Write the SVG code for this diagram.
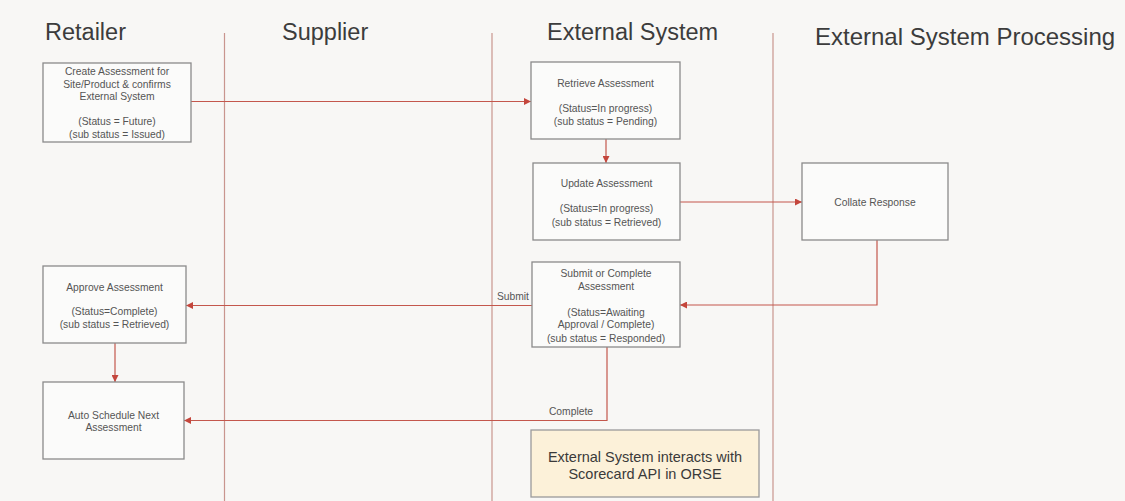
<svg xmlns="http://www.w3.org/2000/svg" width="1125" height="501" viewBox="0 0 1125 501">
<style>
.bg{fill:#f8f7f5}
.lane{stroke:#c9958e;stroke-width:1.2;fill:none}
.head{font-family:"Liberation Sans",Arial,sans-serif;font-size:23.5px;fill:#3c3c3c}
.box{fill:#fbfbfa;stroke:#8a8a8a;stroke-width:1.3}
.note{fill:#fcf1d9;stroke:#9a9a9a;stroke-width:1.3}
.t{font-family:"Liberation Sans",Arial,sans-serif;font-size:10.3px;fill:#555;text-anchor:middle}
.lbl{font-family:"Liberation Sans",Arial,sans-serif;font-size:10.3px;fill:#555;text-anchor:end}
.nt{font-family:"Liberation Sans",Arial,sans-serif;font-size:14.5px;fill:#3a3a3a;text-anchor:middle}
.c{stroke:#c4574c;stroke-width:1.2;fill:none;marker-end:url(#ah)}
</style>
<defs>
<marker id="ah" viewBox="0 0 10 10" refX="10" refY="5" markerWidth="7" markerHeight="7" markerUnits="userSpaceOnUse" orient="auto">
<path d="M0,0 L10,5 L0,10 z" fill="#c4463c"/>
</marker>
</defs>
<rect class="bg" x="0" y="0" width="1125" height="501"/>
<g id="lanes">
<line class="lane" x1="224.5" y1="33" x2="224.5" y2="501"/>
<line class="lane" x1="492" y1="33" x2="492" y2="501"/>
<line class="lane" x1="773" y1="33" x2="773" y2="501"/>
<text class="head" x="45" y="40">Retailer</text>
<text class="head" x="282" y="40">Supplier</text>
<text class="head" x="547" y="40">External System</text>
<text class="head" x="815" y="45" style="font-size:24px">External System Processing</text>
</g>
<g id="connectors">
<path class="c" d="M191,101.5 H531"/>
<path class="c" d="M606,139 V163"/>
<path class="c" d="M680,202 H802"/>
<path class="c" d="M877,240 V305 H680"/>
<path class="c" d="M532,305.5 H186"/>
<path class="c" d="M607,347 V420.5 H184"/>
<path class="c" d="M115,343 V382"/>
<text class="lbl" x="529" y="300">Submit</text>
<text class="lbl" x="593" y="415">Complete</text>
</g>
<g id="create">
<rect class="box" x="43" y="63" width="148" height="79"/>
<text class="t" x="117" y="75">Create Assessment for</text>
<text class="t" x="117" y="87.5">Site/Product &amp; confirms</text>
<text class="t" x="117" y="100">External System</text>
<text class="t" x="117" y="125">(Status = Future)</text>
<text class="t" x="117" y="138">(sub status = Issued)</text>
</g>
<g id="retrieve">
<rect class="box" x="531" y="62" width="149" height="77"/>
<text class="t" x="605.5" y="87">Retrieve Assessment</text>
<text class="t" x="605.5" y="112">(Status=In progress)</text>
<text class="t" x="605.5" y="125">(sub status = Pending)</text>
</g>
<g id="update">
<rect class="box" x="533" y="163" width="147" height="77"/>
<text class="t" x="606.5" y="187">Update Assessment</text>
<text class="t" x="606.5" y="212">(Status=In progress)</text>
<text class="t" x="606.5" y="225.5">(sub status = Retrieved)</text>
</g>
<g id="collate">
<rect class="box" x="802" y="163" width="146" height="77"/>
<text class="t" x="875" y="206">Collate Response</text>
</g>
<g id="submit">
<rect class="box" x="532" y="262" width="148" height="85"/>
<text class="t" x="606" y="277">Submit or Complete</text>
<text class="t" x="606" y="290">Assessment</text>
<text class="t" x="606" y="315.5">(Status=Awaiting</text>
<text class="t" x="606" y="328">Approval / Complete)</text>
<text class="t" x="606" y="341.5">(sub status = Responded)</text>
</g>
<g id="approve">
<rect class="box" x="43" y="266" width="143" height="77"/>
<text class="t" x="114.5" y="291">Approve Assessment</text>
<text class="t" x="114.5" y="315">(Status=Complete)</text>
<text class="t" x="114.5" y="328">(sub status = Retrieved)</text>
</g>
<g id="autoschedule">
<rect class="box" x="43" y="382" width="141" height="77"/>
<text class="t" x="113.5" y="419">Auto Schedule Next</text>
<text class="t" x="113.5" y="431">Assessment</text>
</g>
<g id="note">
<rect class="note" x="531" y="430" width="228" height="67"/>
<text class="nt" x="645" y="462">External System interacts with</text>
<text class="nt" x="645" y="479">Scorecard API in ORSE</text>
</g>
</svg>
